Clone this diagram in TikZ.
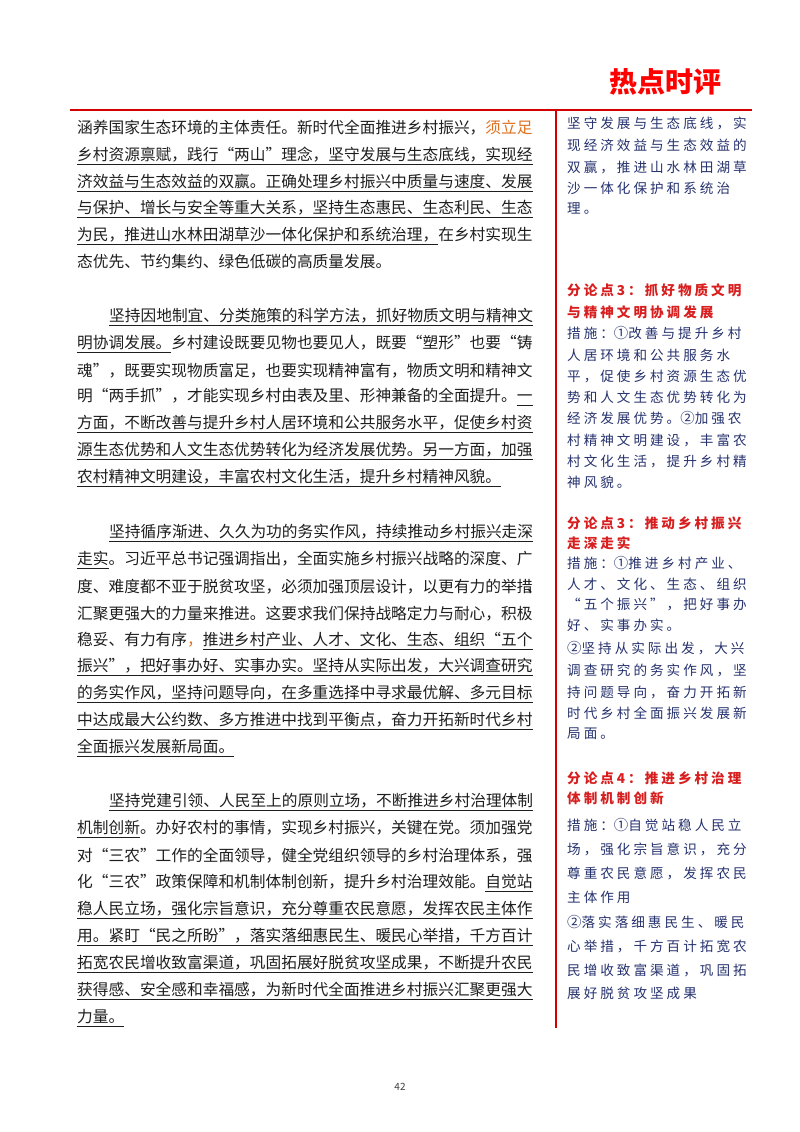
\documentclass[tikz,border=0pt]{standalone}
\usepackage{fontspec}
\setmainfont{Noto Sans CJK SC}
\newfontfamily\rfont[LetterSpace=22]{Noto Sans CJK SC}
\definecolor{tred}{HTML}{D40000}
\definecolor{hred}{HTML}{D81E1E}
\definecolor{rblue}{HTML}{26326E}
\definecolor{ltxt}{HTML}{1E1E1E}
\definecolor{orng}{HTML}{E0701C}
\newcommand\uline[1]{\setbox0\hbox{#1}\rlap{\rule[-3.5pt]{\wd0}{0.6pt}}\box0}
\newcommand\LL[3]{\node[lt] (#1) at (77,#2) {#3};}
\newcommand\RR[3]{\node[rt] (#1) at (567,#2) {\rfont #3};}
\newcommand\RH[3]{\node[rh] (#1) at (567,#2) {\rfont\bfseries #3};}
\begin{document}
\begin{tikzpicture}[x=1pt,y=-1pt,
  lt/.style={anchor=west,inner sep=0pt,font=\fontsize{15.7}{16}\selectfont,text=ltxt},
  rt/.style={anchor=west,inner sep=0pt,font=\fontsize{13.6}{14}\selectfont,text=rblue},
  rh/.style={anchor=west,inner sep=0pt,font=\fontsize{13.6}{14}\selectfont,text=hred},
  rule/.style={draw=tred,line width=1.8pt}]
\useasboundingbox (0,0) rectangle (800,1132);
\fill[white] (0,0) rectangle (800,1132);
\node[inner sep=0pt,text=red,font=\fontsize{28}{30}\selectfont\bfseries] (title) at (665,82) {热点时评};
\coordinate (h1) at (70,110); \coordinate (h2) at (752,110);
\coordinate (v1) at (556,110); \coordinate (v2) at (556,1028);
\draw[rule] (h1) -- (h2);
\draw[rule] (v1) -- (v2);
% paragraph 1
\LL{a1}{128}{涵养国家生态环境的主体责任。新时代全面推进乡村振兴，\textcolor{orng}{须立足}}
\LL{a2}{156}{\uline{乡村资源禀赋，践行“两山”理念，坚守发展与生态底线，实现经}}
\LL{a3}{183}{\uline{济效益与生态效益的双赢。正确处理乡村振兴中质量与速度、发展}}
\LL{a4}{209}{\uline{与保护、增长与安全等重大关系，坚持生态惠民、生态利民、生态}}
\LL{a5}{236}{\uline{为民，推进山水林田湖草沙一体化保护和系统治理，}在乡村实现生}
\LL{a6}{262}{态优先、节约集约、绿色低碳的高质量发展。}
% paragraph 2
\LL{b1}{317}{\hspace{32pt}\uline{坚持因地制宜、分类施策的科学方法，抓好物质文明与精神文}}
\LL{b2}{344}{\uline{明协调发展。}乡村建设既要见物也要见人，既要“塑形”也要“铸}
\LL{b3}{371}{魂”，既要实现物质富足，也要实现精神富有，物质文明和精神文}
\LL{b4}{397}{明“两手抓”，才能实现乡村由表及里、形神兼备的全面提升。\uline{一}}
\LL{b5}{424}{\uline{方面，不断改善与提升乡村人居环境和公共服务水平，促使乡村资}}
\LL{b6}{451}{\uline{源生态优势和人文生态优势转化为经济发展优势。另一方面，加强}}
\LL{b7}{478}{\uline{农村精神文明建设，丰富农村文化生活，提升乡村精神风貌。}}
% paragraph 3
\LL{c1}{533}{\hspace{32pt}\uline{坚持循序渐进、久久为功的务实作风，持续推动乡村振兴走深}}
\LL{c2}{560}{\uline{走实}。习近平总书记强调指出，全面实施乡村振兴战略的深度、广}
\LL{c3}{587}{度、难度都不亚于脱贫攻坚，必须加强顶层设计，以更有力的举措\kern-6pt、}
\LL{c4}{614}{汇聚更强大的力量来推进。这要求我们保持战略定力与耐心，积极}
\LL{c5}{641}{稳妥、有力有序\textcolor{orng}{，}\uline{推进乡村产业、人才、文化、生态、组织“五个}}
\LL{c6}{667}{\uline{振兴”，把好事办好、实事办实。坚持从实际出发，大兴调查研究}}
\LL{c7}{694}{\uline{的务实作风，坚持问题导向，在多重选择中寻求最优解、多元目标}}
\LL{c8}{721}{\uline{中达成最大公约数、多方推进中找到平衡点，奋力开拓新时代乡村}}
\LL{c9}{748}{\uline{全面振兴发展新局面。}}
% paragraph 4
\LL{d1}{802}{\hspace{32pt}\uline{坚持党建引领、人民至上的原则立场，不断推进乡村治理体制}}
\LL{d2}{829}{\uline{机制创新}。办好农村的事情，实现乡村振兴，关键在党。须加强党}
\LL{d3}{856}{对“三农”工作的全面领导，健全党组织领导的乡村治理体系，强}
\LL{d4}{883}{化“三农”政策保障和机制体制创新，提升乡村治理效能。\uline{自觉站}}
\LL{d5}{910}{\uline{稳人民立场，强化宗旨意识，充分尊重农民意愿，发挥农民主体作}}
\LL{d6}{937}{\uline{用。紧盯“民之所盼”，落实落细惠民生、暖民心举措，千方百计}}
\LL{d7}{964}{\uline{拓宽农民增收致富渠道，巩固拓展好脱贫攻坚成果，不断提升农民}}
\LL{d8}{991}{\uline{获得感、安全感和幸福感，为新时代全面推进乡村振兴汇聚更强大}}
\LL{d9}{1018}{\uline{力量。}}
% right column
\RR{r1}{123}{坚守发展与生态底线，实}
\RR{r2}{145}{现经济效益与生态效益的}
\RR{r3}{167}{双赢，推进山水林田湖草}
\RR{r4}{188}{沙一体化保护和系统治}
\RR{r5}{209}{理。}
\RH{s1}{290}{分论点3：抓好物质文明}
\RH{s2}{312}{与精神文明协调发展}
\RR{s3}{333}{措施：{\Large①}改善与提升乡村}
\RR{s4}{355}{人居环境和公共服务水}
\RR{s5}{376}{平，促使乡村资源生态优}
\RR{s6}{397}{势和人文生态优势转化为}
\RR{s7}{418}{经济发展优势。{\Large②}加强农}
\RR{s8}{440}{村精神文明建设，丰富农}
\RR{s9}{461}{村文化生活，提升乡村精}
\RR{s10}{482}{神风貌。}
\RH{t1}{523}{分论点3：推动乡村振兴}
\RH{t2}{543}{走深走实}
\RR{t3}{563}{措施：{\Large①}推进乡村产业、}
\RR{t4}{584}{人才、文化、生态、组织}
\RR{t5}{604}{“五个振兴”，把好事办}
\RR{t6}{625}{好、实事办实。}
\RR{t7}{648}{{\Large②}坚持从实际出发，大兴}
\RR{t8}{670}{调查研究的务实作风，坚}
\RR{t9}{692}{持问题导向，奋力开拓新}
\RR{t10}{713}{时代乡村全面振兴发展新}
\RR{t11}{734}{局面。}
\RH{u1}{778}{分论点4：推进乡村治理}
\RH{u2}{798}{体制机制创新}
\RR{u3}{825}{措施：{\Large①}自觉站稳人民立}
\RR{u4}{849}{场，强化宗旨意识，充分}
\RR{u5}{873}{尊重农民意愿，发挥农民}
\RR{u6}{897}{主体作用}
\RR{u7}{922}{{\Large②}落实落细惠民生、暖民}
\RR{u8}{946}{心举措，千方百计拓宽农}
\RR{u9}{970}{民增收致富渠道，巩固拓}
\RR{u10}{993}{展好脱贫攻坚成果}
\node[inner sep=0pt,font=\fontsize{10}{10}\selectfont,text=black!75] (pg) at (400,1087) {42};
\end{tikzpicture}
\end{document}
